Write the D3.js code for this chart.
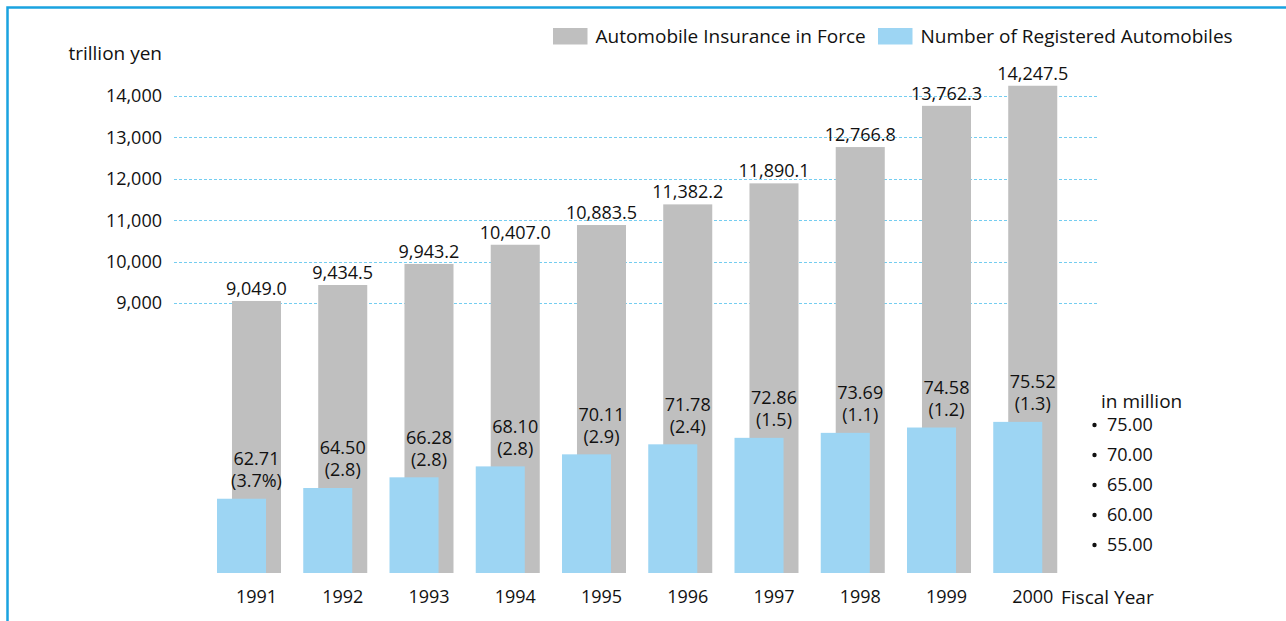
<!DOCTYPE html>
<html>
<head>
<meta charset="utf-8">
<script src="https://cdn.jsdelivr.net/npm/d3@7"></script>
<style>
  html, body { margin: 0; padding: 0; background: #fff; }
  svg text { font-family: "Open Sans", "Noto Sans", sans-serif; fill: #111; }
</style>
</head>
<body>
<div id="chart"></div>
<script>

const years = ["1991","1992","1993","1994","1995","1996","1997","1998","1999","2000"];
const insurance = [9049.0, 9434.5, 9943.2, 10407.0, 10883.5, 11382.2, 11890.1, 12766.8, 13762.3, 14247.5];
const vehicles = [62.71, 64.50, 66.28, 68.10, 70.11, 71.78, 72.86, 73.69, 74.58, 75.52];
const growth = ["3.7%", "2.8", "2.8", "2.8", "2.9", "2.4", "1.5", "1.1", "1.2", "1.3"];
const leftTicks = [9000, 10000, 11000, 12000, 13000, 14000];
const rightTicks = [75, 70, 65, 60, 55];
const legendNames = ["Automobile Insurance in Force", "Number of Registered Automobiles"];

function drawChart(wrap) {

    const width = 1286, height = 621;
    const fs = 18;   // numbers
    const fw = 19;   // words (the original face is wider for letters)
    const grey = "#bfbfbf", blue = "#9dd5f3";
    const base = 573; // bottom of all bars (axis is broken, no zero)

    const svg = d3.select(wrap).append("svg")
        .attr("width", width)
        .attr("height", height)
        ;

    // frame: only top and left edges visible
    svg.append("path")
        .attr("d", `M7.5,${height} L7.5,7.5 L${width},7.5`)
        .attr("fill", "none")
        .attr("stroke", "#1aa3e0")
        .attr("stroke-width", 2.5)
        ;

    const x = d3.scaleBand()
        .domain(years)
        .range([217, 1057.25])
        .paddingInner(0.258)
        .paddingOuter(0)
        ;
    const barW = x.bandwidth() * 0.766;
    const off = x.bandwidth() - barW;

    const yIns = d3.scaleLinear().domain([9000, 14000]).range([303, 96]);
    const yVeh = d3.scaleLinear().domain([55, 75]).range([545, 425]);

    // gridlines
    svg.append("g")
        .selectAll("line")
        .data(leftTicks)
        .join("line")
            .attr("x1", 174)
            .attr("x2", 1098)
            .attr("y1", d => Math.round(yIns(d)) + 0.5)
            .attr("y2", d => Math.round(yIns(d)) + 0.5)
            .attr("stroke", "#74cdf0")
            .attr("stroke-width", 1)
            .attr("stroke-dasharray", "3,2")
        ;

    // left axis labels
    svg.append("g")
        .selectAll("text")
        .data(leftTicks)
        .join("text")
            .attr("x", 162)
            .attr("y", d => yIns(d))
            .attr("dy", "0.36em")
            .attr("text-anchor", "end")
            .attr("font-size", fs)
            .text(d => d3.format(",")(d))
        ;
    svg.append("text")
        .attr("x", 162).attr("y", 53).attr("dy", "0.36em")
        .attr("text-anchor", "end")
        .attr("font-size", fw)
        .text("trillion yen");

    // grey bars (insurance)
    const idx = d3.range(years.length);
    svg.append("g")
        .selectAll("rect")
        .data(idx)
        .join("rect")
            .attr("x", i => x(years[i]) + off)
            .attr("y", i => yIns(insurance[i]))
            .attr("width", barW)
            .attr("height", i => base - yIns(insurance[i]))
            .attr("fill", grey)
        ;

    svg.append("g")
        .selectAll("text")
        .data(idx)
        .join("text")
            .attr("x", i => x(years[i]) + off + barW / 2)
            .attr("y", i => yIns(insurance[i]) - 6)
            .attr("text-anchor", "middle")
            .attr("font-size", fs)
            .text(i => d3.format(",.1f")(insurance[i]))
        ;

    // blue bars (vehicles)
    svg.append("g")
        .selectAll("rect")
        .data(idx)
        .join("rect")
            .attr("x", i => x(years[i]))
            .attr("y", i => yVeh(vehicles[i]))
            .attr("width", barW)
            .attr("height", i => base - yVeh(vehicles[i]))
            .attr("fill", blue)
        ;

    const vl = svg.append("g")
        .selectAll("text")
        .data(idx)
        .join("text")
            .attr("text-anchor", "middle")
            .attr("font-size", fs)
        ;
    vl.append("tspan")
        .attr("x", i => x(years[i]) + off + barW / 2)
        .attr("y", i => yVeh(vehicles[i]) - 40)
        .attr("dy", "0.36em")
        .text(i => vehicles[i].toFixed(2));
    vl.append("tspan")
        .attr("x", i => x(years[i]) + off + barW / 2)
        .attr("y", i => yVeh(vehicles[i]) - 18)
        .attr("dy", "0.36em")
        .text(i => `(${growth[i]})`);

    // right axis: bullets + labels
    const ra = svg.append("g")
        .selectAll("g")
        .data(rightTicks)
        .join("g")
            .attr("transform", d => `translate(0,${yVeh(d)})`)
        ;
    ra.append("circle")
        .attr("cx", 1094.5)
        .attr("r", 2.2)
        .attr("fill", "#111");
    ra.append("text")
        .attr("x", 1107)
        .attr("dy", "0.36em")
        .attr("font-size", fs)
        .text(d => d.toFixed(2));
    svg.append("text")
        .attr("x", 1101).attr("y", 401).attr("dy", "0.36em")
        .attr("font-size", fw)
        .text("in million");

    // year labels
    svg.append("g")
        .selectAll("text")
        .data(years)
        .join("text")
            .attr("x", d => x(d) + off + barW / 2)
            .attr("y", 597)
            .attr("dy", "0.36em")
            .attr("text-anchor", "middle")
            .attr("font-size", fs)
            .text(d => d)
        ;
    svg.append("text")
        .attr("x", 1061).attr("y", 597).attr("dy", "0.36em")
        .attr("font-size", fw)
        .text("Fiscal Year");

    // legend
    const lg = svg.append("g")
        .selectAll("g")
        .data(legendNames)
        .join("g")
            .attr("transform", (d, i) => `translate(${[553, 878][i]},28)`)
        ;
    lg.append("rect")
        .attr("width", 34.5)
        .attr("height", 16.5)
        .attr("fill", (d, i) => [grey, blue][i]);
    lg.append("text")
        .attr("x", 42.5)
        .attr("y", 8.5)
        .attr("dy", "0.36em")
        .attr("font-size", fw)
        .text(d => d);

}

drawChart("#chart");

</script>
</body>
</html>
